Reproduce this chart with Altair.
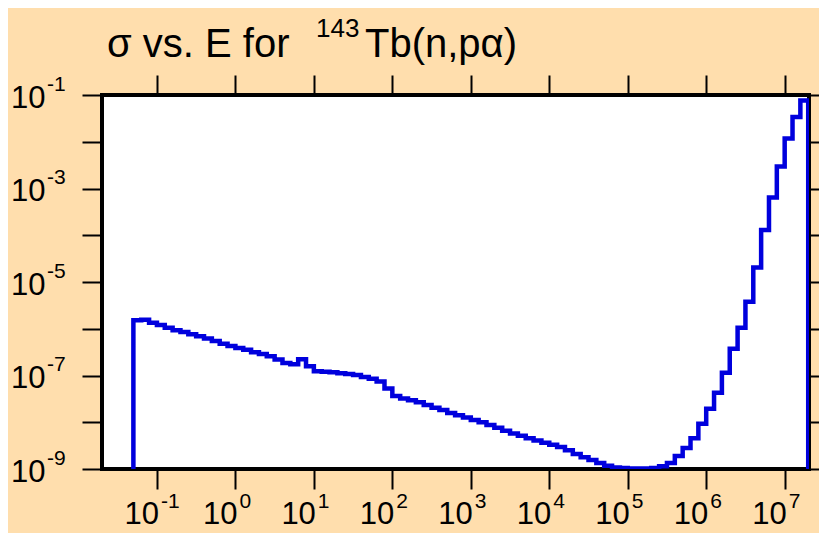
import altair as alt
import pandas as pd

# ---- data (log10 values) ----
log_e_edges = [-1.3, -1.2, -1.1, -1.0, -0.9, -0.8, -0.7, -0.6, -0.5, -0.4,
               -0.3, -0.2, -0.1, 0.0, 0.1, 0.2, 0.3, 0.4, 0.5, 0.6,
               0.7, 0.8, 0.9, 1.0, 1.1, 1.2, 1.3, 1.4, 1.5, 1.6,
               1.7, 1.8, 1.9, 2.0, 2.1, 2.2, 2.3, 2.4, 2.5, 2.6,
               2.7, 2.8, 2.9, 3.0, 3.1, 3.2, 3.3, 3.4, 3.5, 3.6,
               3.7, 3.8, 3.9, 4.0, 4.1, 4.2, 4.3, 4.4, 4.5, 4.6,
               4.7, 4.8, 4.9, 5.0, 5.1, 5.2, 5.3, 5.4, 5.5, 5.6,
               5.7, 5.8, 5.9, 6.0, 6.1, 6.2, 6.3, 6.4, 6.5, 6.6,
               6.7, 6.8, 6.9, 7.0, 7.1, 7.2, 7.3]
log_sigma = [-5.82, -5.81, -5.87, -5.92, -5.98, -6.03, -6.07, -6.12, -6.16, -6.21,
             -6.26, -6.32, -6.37, -6.41, -6.45, -6.50, -6.54, -6.59, -6.66, -6.73,
             -6.76, -6.65, -6.80, -6.91, -6.92, -6.93, -6.95, -6.97, -6.99, -7.03,
             -7.07, -7.13, -7.28, -7.44, -7.49, -7.53, -7.57, -7.63, -7.69, -7.74,
             -7.80, -7.85, -7.90, -7.95, -8.00, -8.06, -8.12, -8.18, -8.24, -8.29,
             -8.34, -8.39, -8.44, -8.48, -8.53, -8.60, -8.68, -8.75, -8.81, -8.87,
             -8.93, -8.97, -8.98, -8.99, -8.99, -8.99, -8.98, -8.94, -8.87, -8.72,
             -8.55, -8.34, -8.03, -7.71, -7.37, -6.94, -6.43, -5.98, -5.42, -4.69,
             -3.89, -3.19, -2.53, -1.93, -1.47, -1.12]
x_tick_exps = [-1, 0, 1, 2, 3, 4, 5, 6, 7]
y_tick_exps = [-9, -8, -7, -6, -5, -4, -3, -2, -1]
y_label_exps = [-9, -7, -5, -3, -1]
y_floor = 1e-9

# ---- build the step line table ----
rows = [{"i": 0, "E": 10 ** log_e_edges[0], "S": y_floor}]
for k, s in enumerate(log_sigma):
    rows.append({"i": k + 1, "E": 10 ** log_e_edges[k], "S": 10 ** s})
rows.append({"i": len(rows), "E": 10 ** log_e_edges[-1], "S": 10 ** log_sigma[-1]})
rows.append({"i": len(rows), "E": 10 ** log_e_edges[-1], "S": y_floor})
df_line = pd.DataFrame(rows)

df_xl = pd.DataFrame({"E": [10.0 ** k for k in x_tick_exps],
                      "base": ["10"] * len(x_tick_exps),
                      "exp": [str(k) for k in x_tick_exps]})
df_yl = pd.DataFrame({"S": [10.0 ** k for k in y_label_exps],
                      "base": ["10"] * len(y_label_exps),
                      "exp": [str(k) for k in y_label_exps]})

FONT = "Liberation Sans, Arial, sans-serif"
W, H = 707, 374
xs = alt.Scale(type="log", domain=[10 ** -1.70, 10 ** 7.31], nice=False)
ys = alt.Scale(type="log", domain=[1e-9, 1e-1], nice=False)


def tick_axis(orient, vals):
    return alt.Axis(orient=orient, values=vals, tickSize=20, tickWidth=2,
                    tickColor="black", labels=False, domain=False,
                    grid=False, title=None)


xvals = [10.0 ** k for k in x_tick_exps]
yvals = [10.0 ** k for k in y_tick_exps]

line = alt.Chart(df_line).mark_line(
    color="#0000DD", strokeWidth=4.5, interpolate="step-after", clip=True
).encode(
    x=alt.X("E:Q", scale=xs, axis=tick_axis("bottom", xvals)),
    y=alt.Y("S:Q", scale=ys, axis=tick_axis("left", yvals)),
    order="i:Q",
)

ghost = alt.Chart(df_line).mark_line(opacity=0).encode(
    x=alt.X("E:Q", scale=xs, axis=tick_axis("top", xvals)),
    y=alt.Y("S:Q", scale=ys, axis=tick_axis("right", yvals)),
    order="i:Q",
)

xl_base = alt.Chart(df_xl).mark_text(
    align="right", baseline="alphabetic", fontSize=31, font=FONT, color="black", dx=2
).encode(x=alt.X("E:Q", scale=xs, axis=None), y=alt.value(H + 55), text="base:N")
xl_exp = alt.Chart(df_xl).mark_text(
    align="left", baseline="alphabetic", fontSize=21, font=FONT, color="black", dx=4
).encode(x=alt.X("E:Q", scale=xs, axis=None), y=alt.value(H + 38.5), text="exp:N")

yl_base = alt.Chart(df_yl).mark_text(
    align="left", baseline="alphabetic", fontSize=31, font=FONT, color="black", dy=12.5
).encode(x=alt.value(-91), y=alt.Y("S:Q", scale=ys, axis=None), text="base:N")
yl_exp = alt.Chart(df_yl).mark_text(
    align="left", baseline="alphabetic", fontSize=21, font=FONT, color="black", dy=-4.5
).encode(x=alt.value(-55), y=alt.Y("S:Q", scale=ys, axis=None), text="exp:N")

# title pieces: (text, page-x of left edge, baseline offset, size)
title_parts = [("σ vs. E for", 107, 0, 40), ("143", 316, -20, 26),
               ("Tb(n,pα)", 365, 0, 40)]
dummy = pd.DataFrame({"a": [0]})
title_layers = []
for txt, px, off, fs in title_parts:
    title_layers.append(
        alt.Chart(dummy).mark_text(
            text=txt, align="left", baseline="alphabetic", fontSize=fs,
            font=FONT, color="black"
        ).encode(x=alt.value(px - 102), y=alt.value(57 - 95 + off))
    )

chart = alt.layer(line, ghost, xl_base, xl_exp, yl_base, yl_exp, *title_layers).resolve_axis(
    x="independent", y="independent"
).properties(
    width=W, height=H,
    autosize=alt.AutoSizeParams(type="none"),
    padding={"left": 94, "top": 87, "right": 10, "bottom": 64},
    background="#FFDEAD",
).configure_view(
    stroke="black", strokeWidth=4, fill="white"
)

chart.save("out.html", embed_options={"renderer": "svg", "actions": False})
